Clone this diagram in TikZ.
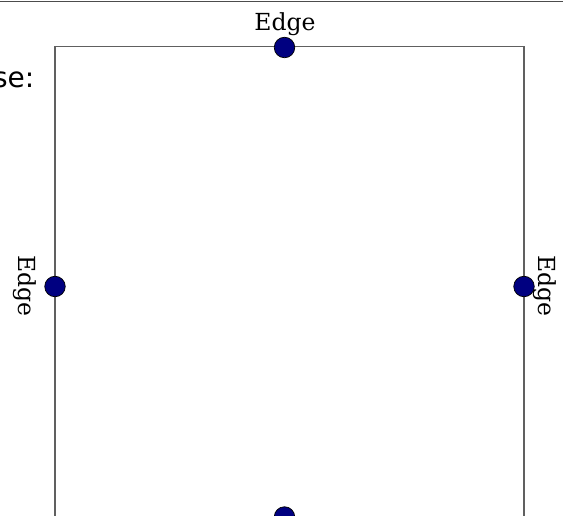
\documentclass[tikz,border=0pt]{standalone}
\usepackage{fontspec}
\setmainfont{DejaVu Serif}
\newfontfamily\labsans{DejaVu Sans}
\definecolor{dotblue}{HTML}{000080}
\definecolor{framegray}{HTML}{606060}
\begin{document}
\begin{tikzpicture}[x=1pt,y=-1pt,
  dot/.style={circle,fill=dotblue,draw=black,line width=0.7pt,minimum size=20.5pt,inner sep=0pt,outer sep=0pt},
  edgelab/.style={font=\fontsize{23.5}{26}\selectfont,inner sep=0pt,anchor=base},
  frame/.style={draw=framegray,line width=1.1pt}]
\useasboundingbox (0,0) rectangle (571,516);
\clip (0,0) rectangle (571,516);
\draw[draw=black!70,line width=1pt] (0,1.5) -- (563,1.5);
\node[anchor=base east,inner sep=0pt,font=\labsans\fontsize{28}{32}\selectfont] (se) at (34.5,88) {se:};
\draw[frame] (55,530) -- (55,46.5) -- (524,46.5) -- (524,530);
\node[dot] (dT) at (284.5,47.5) {};
\node[dot] (dL) at (55,286.5) {};
\node[dot] (dR) at (524,286.5) {};
\node[dot] (dB) at (284.5,517) {};
\node[edgelab] (lT) at (285,30.7) {Edge};
\node[edgelab,rotate=-90] (lL) at (18,286) {Edge};
\node[edgelab,rotate=-90] (lR) at (538,286) {Edge};
\end{tikzpicture}
\end{document}
